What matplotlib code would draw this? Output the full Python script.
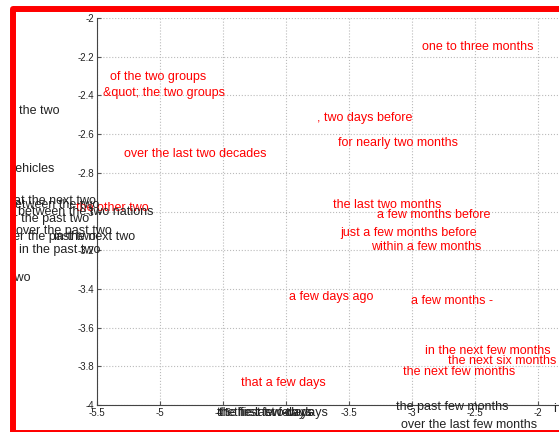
import matplotlib
matplotlib.use('Agg')
import matplotlib.pyplot as plt
from matplotlib.patches import Rectangle

plt.rcParams['font.family'] = ['Liberation Sans', 'DejaVu Sans']

# phrases placed at (x, y) positions, red = one group, black = the other
red_labels = ['one to three months', 'of the two groups', '&quot; the two groups',
              ', two days before', 'for nearly two months', 'over the last two decades',
              'the other two', 'the last two months', 'a few months before',
              'just a few months before', 'within a few months', 'a few days ago',
              'a few months -', 'in the next few months', 'the next six months',
              'the next few months', 'that a few days']
red_x = [-2.92, -5.397, -5.455, -3.754, -3.587, -5.286, -5.667, -3.627, -3.278,
         -3.566, -3.328, -3.976, -3.008, -2.897, -2.717, -3.069, -4.36]
red_y = [-2.15, -2.305, -2.388, -2.515, -2.646, -2.703, -2.982, -2.966, -3.018,
         -3.11, -3.185, -3.443, -3.463, -3.719, -3.773, -3.828, -3.888]

black_labels = ['the two', 'vehicles', 'two', 'at the next two', 'between the two',
                'between the two nations', 'for the past two', 'over the past two',
                'over the past two', 'in the next two', 'in the past two',
                'the first few days', 'the first two days', 'the last few days',
                'the past few months', 'over the last few months', 'i']
black_x = [-6.117, -6.19, -6.18, -6.159, -6.206, -6.127, -6.246, -6.143, -6.27,
           -5.841, -6.117, -4.55, -4.535, -4.41, -3.127, -3.09, -1.881]
black_y = [-2.48, -2.78, -3.344, -2.946, -2.966, -3.003, -3.039, -3.101, -3.132,
           -3.132, -3.199, -4.04, -4.04, -4.04, -4.009, -4.103, -4.02]

xticks = [-5.5, -5, -4.5, -4, -3.5, -3, -2.5, -2]
yticks = [-4, -3.8, -3.6, -3.4, -3.2, -3, -2.8, -2.6, -2.4, -2.2, -2]

fig = plt.figure(figsize=(5.59, 4.32), dpi=100)
ax = fig.add_axes([97 / 559, 27 / 432, 462 / 559, 387 / 432])
ax.set_xlim(-5.5, -5.5 + 462 / 126)
ax.set_ylim(-4, -2)
ax.set_xticks(xticks)
ax.set_xticklabels(['%g' % t for t in xticks])
ax.set_yticks(yticks)
ax.set_yticklabels(['%g' % t for t in yticks])
ax.tick_params(direction='in', length=3, labelsize=7, labelcolor='#222222',
               colors='#555555', pad=2)
ax.grid(True, linestyle=':', color='#bbbbbb', linewidth=0.8)
for side in ['top', 'right']:
    ax.spines[side].set_visible(False)
for side in ['left', 'bottom']:
    ax.spines[side].set_color('#444444')
    ax.spines[side].set_linewidth(0.8)

for label, x, y in zip(red_labels, red_x, red_y):
    ax.text(x, y, label, color='red', fontsize=9, ha='left', va='center')
for label, x, y in zip(black_labels, black_x, black_y):
    ax.text(x, y, label, color='#222222', fontsize=9, ha='left', va='center')

# white margin outside the frame, then the red frame itself
fig.patches.append(Rectangle((-0.05, -0.05), 0.05 + 10 / 559, 1.1,
                             transform=fig.transFigure, facecolor='white',
                             edgecolor='none', zorder=9))
fig.patches.append(Rectangle((-0.05, 1 - 6 / 432), 1.1, 0.1,
                             transform=fig.transFigure, facecolor='white',
                             edgecolor='none', zorder=9))
fig.patches.append(Rectangle((12.5 / 559, -0.5 / 432), 548.5 / 559, 423.5 / 432,
                             transform=fig.transFigure, fill=False,
                             edgecolor='red', linewidth=4.3, joinstyle='round',
                             zorder=10))

fig.savefig('out.png', dpi=100)
